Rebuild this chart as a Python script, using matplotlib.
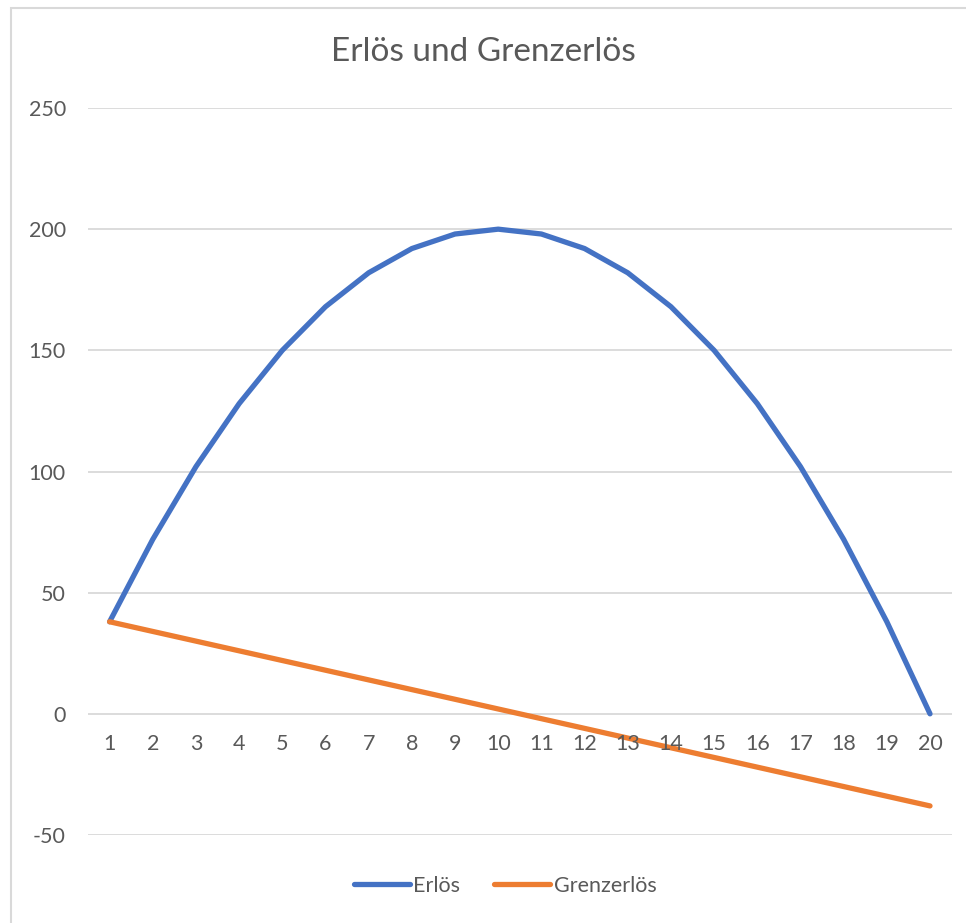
import matplotlib.pyplot as plt
from matplotlib.patches import Rectangle

menge = list(range(1, 21))
erloes = [38, 72, 102, 128, 150, 168, 182, 192, 198, 200,
          198, 192, 182, 168, 150, 128, 102, 72, 38, 0]
grenzerloes = [38, 34, 30, 26, 22, 18, 14, 10, 6, 2,
               -2, -6, -10, -14, -18, -22, -26, -30, -34, -38]
y_ticks = [-50, 0, 50, 100, 150, 200, 250]

plt.rcParams['font.family'] = ['Lato', 'DejaVu Sans']
plt.rcParams['axes.unicode_minus'] = False
W, H = 966, 923
fig = plt.figure(figsize=(W / 100, H / 100), dpi=100)

# chart border (Excel style), only top/left visible
fig.patches.append(Rectangle((11 / W, -1), 2, 2 - 8 / H, transform=fig.transFigure,
                             fill=False, edgecolor='#d9d9d9', linewidth=1.5))

ax = fig.add_axes([88 / W, 1 - 835 / H, (951.6 - 88) / W, (835 - 108) / H])
ax.plot(menge, erloes, color='#4472C4', linewidth=3.8, label='Erlös', solid_capstyle='round')
ax.plot(menge, grenzerloes, color='#ED7D31', linewidth=3.8, label='Grenzerlös', solid_capstyle='round')

ax.set_xlim(0.5, 20.5)
ax.set_ylim(-50, 250)
ax.set_yticks(y_ticks)
ax.grid(axis='y', color='#d9d9d9', linewidth=1.3)
ax.set_axisbelow(True)
for s in ax.spines.values():
    s.set_visible(False)
ax.tick_params(axis='y', length=0, pad=16, labelsize=15.5, labelcolor='#595959')
ax.set_xticks([])

# category labels sit under the zero line
for m in menge:
    ax.annotate(str(m), (m, 0), xytext=(0, -22), textcoords='offset points',
                ha='center', va='center', fontsize=15.5, color='#595959')

fig.text(0.5, 1 - 52 / H, 'Erlös und Grenzerlös', ha='center', va='center',
         fontsize=24, color='#595959')

leg = fig.legend(loc='center', bbox_to_anchor=(505 / W, 1 - 886 / H), ncol=2,
                 frameon=False, fontsize=15.5, handlelength=2.6, columnspacing=1.6,
                 handletextpad=0.15)
for t in leg.get_texts():
    t.set_color('#595959')

fig.savefig('out.png', dpi=100)
